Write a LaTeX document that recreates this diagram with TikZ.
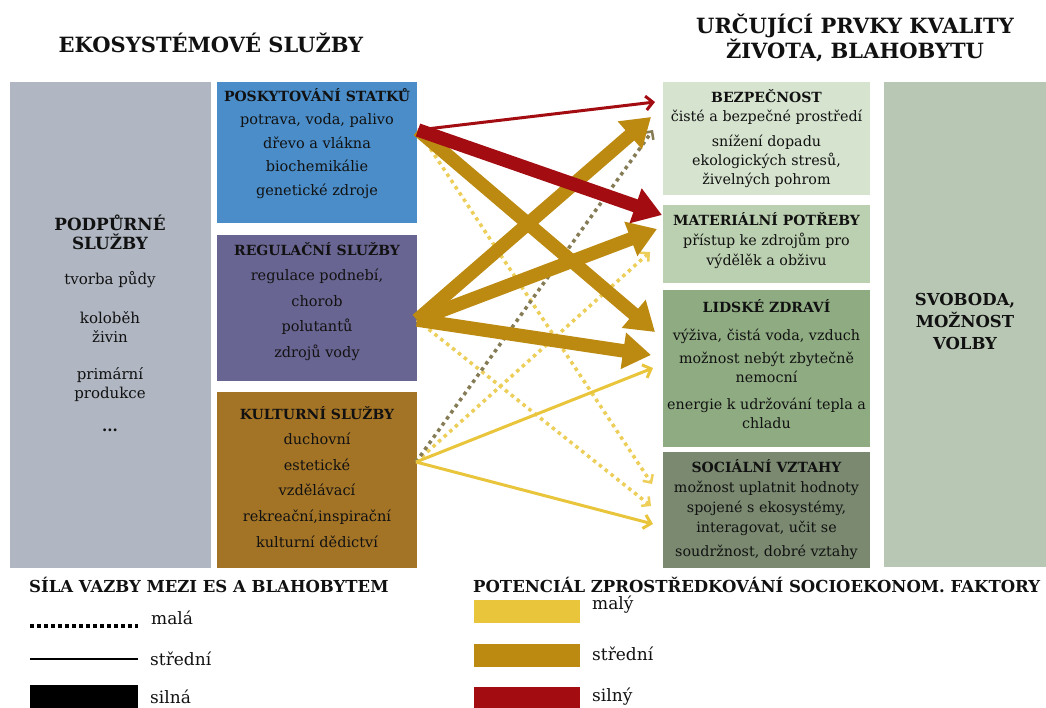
\documentclass[tikz,border=0pt]{standalone}
\usepackage{fontspec}
\setmainfont{DejaVu Serif}
\usetikzlibrary{arrows.meta}

\definecolor{ink}{HTML}{111111}
\definecolor{cPodp}{HTML}{B0B7C3}
\definecolor{cPosk}{HTML}{4A8DC8}
\definecolor{cRegul}{HTML}{696592}
\definecolor{cKult}{HTML}{A47426}
\definecolor{cBez}{HTML}{D6E3CF}
\definecolor{cMat}{HTML}{BBD0B0}
\definecolor{cLid}{HTML}{8FAB82}
\definecolor{cSoc}{HTML}{7A8970}
\definecolor{cSvob}{HTML}{B8C6B4}
\definecolor{cLow}{HTML}{E9C53C}
\definecolor{cMid}{HTML}{BC8A10}
\definecolor{cHigh}{HTML}{A30D12}
\definecolor{cOlive}{HTML}{857B55}

\newcommand\esHead{\bfseries\fontsize{14}{19}\selectfont}

\tikzset{
  panel/.style={rectangle, draw=none, inner sep=0pt, outer sep=0pt, anchor=north west},
  boxtext/.style={align=center, inner sep=0pt, anchor=north, text=ink},
  bigarrow/.style={line width=13.5pt, -{Triangle[length=28pt,width=35pt]}},
  thinarrow/.style={line width=3pt, -{Straight Barb[length=7pt,width=14pt]}},
  dotarrow/.style={line width=3.5pt, dash pattern=on 3.5pt off 4pt,
                   -{Straight Barb[length=6pt,width=12pt,line width=2.5pt]}},
  legtitle/.style={anchor=west, inner sep=0pt, text=ink, font=\bfseries\fontsize{16.5}{19}\selectfont},
  legtext/.style={anchor=west, inner sep=0pt, text=ink, font=\fontsize{17}{20}\selectfont},
}

\begin{document}
\begin{tikzpicture}[x=1pt,y=-1pt]
\useasboundingbox (0,0) rectangle (1046,708);
\fill[white] (0,0) rectangle (1046,708);

% ---- headings
\node[text=ink, inner sep=0pt, font=\bfseries\fontsize{21}{25}\selectfont] (ttl-es) at (211,43) {EKOSYSTÉMOVÉ SLUŽBY};
\node[text=ink, inner sep=0pt, align=center, font=\bfseries\fontsize{21}{25}\selectfont] (ttl-wb) at (855,38) {URČUJÍCÍ PRVKY KVALITY\\ŽIVOTA, BLAHOBYTU};

% ---- ecosystem services (left)
\node[panel, fill=cPodp, minimum width=201pt, minimum height=486pt] (podp) at (10,82) {};
\node[panel, fill=cPosk, minimum width=200pt, minimum height=141pt] (posk) at (217,82) {};
\node[panel, fill=cRegul, minimum width=200pt, minimum height=146pt] (regul) at (217,235) {};
\node[panel, fill=cKult, minimum width=200pt, minimum height=176pt] (kult) at (217,392) {};

\node[boxtext, font=\fontsize{15}{19}\selectfont] (podp-t) at (110,215)
  {{\bfseries\fontsize{16.8}{20}\selectfont PODPŮRNÉ}\\{\bfseries\fontsize{16.8}{20}\selectfont SLUŽBY}\\[16pt]
   tvorba půdy\\[20pt]koloběh\\živin\\[18pt]primární\\produkce\\[14pt]\textbf{...}};
\node[boxtext, font=\fontsize{14.5}{23.5}\selectfont] (posk-t) at (317,88)
  {{\esHead POSKYTOVÁNÍ STATKŮ}\\potrava, voda, palivo\\dřevo a vlákna\\biochemikálie\\genetické zdroje};
\node[boxtext, font=\fontsize{14.5}{25.5}\selectfont] (regul-t) at (317,242)
  {{\esHead REGULAČNÍ SLUŽBY}\\regulace podnebí,\\chorob\\polutantů\\zdrojů vody};
\node[boxtext, font=\fontsize{14.5}{25.6}\selectfont] (kult-t) at (317,406)
  {{\esHead KULTURNÍ SLUŽBY}\\duchovní\\estetické\\vzdělávací\\rekreační,inspirační\\kulturní dědictví};

% ---- constituents of well-being (right)
\node[panel, fill=cBez, minimum width=207pt, minimum height=113pt] (bez) at (663,82) {};
\node[panel, fill=cMat, minimum width=207pt, minimum height=78pt] (mat) at (663,205) {};
\node[panel, fill=cLid, minimum width=207pt, minimum height=157pt] (lid) at (663,290) {};
\node[panel, fill=cSoc, minimum width=207pt, minimum height=116pt] (soc) at (663,452) {};
\node[panel, fill=cSvob, minimum width=162pt, minimum height=485pt] (svob) at (884,82) {};

\node[boxtext, font=\fontsize{14.3}{19}\selectfont] (bez-t) at (766.5,89)
  {{\esHead BEZPEČNOST}\\čisté a bezpečné prostředí\\[6pt]snížení dopadu\\ekologických stresů,\\živelných pohrom};
\node[boxtext, font=\fontsize{14.3}{20}\selectfont] (mat-t) at (766.5,212)
  {{\esHead MATERIÁLNÍ POTŘEBY}\\přístup ke zdrojům pro\\výdělěk a obživu};
\node[boxtext, font=\fontsize{14.3}{19.5}\selectfont] (lid-t) at (766.5,299)
  {{\esHead LIDSKÉ ZDRAVÍ}\\[9pt]výživa, čistá voda, vzduch\\[3pt]možnost nebýt zbytečně\\nemocní\\[7pt]energie k udržování tepla a\\chladu};
\node[boxtext, font=\fontsize{14.3}{20}\selectfont] (soc-t) at (766.5,459)
  {{\esHead SOCIÁLNÍ VZTAHY}\\možnost uplatnit hodnoty\\spojené s ekosystémy,\\interagovat, učit se\\[4pt]soudržnost, dobré vztahy};
\node[boxtext, align=center, font=\bfseries\fontsize{16.5}{22}\selectfont] (svob-t) at (965,293)
  {SVOBODA,\\MOŽNOST\\VOLBY};

% ---- connector ends
\coordinate (posk-o) at (418,130);
\coordinate (regul-o) at (417,320);
\coordinate (kult-o) at (416,462);
\coordinate (bez-a) at (655,102);
\coordinate (bez-b) at (651,117);
\coordinate (bez-c) at (653,130);
\coordinate (mat-a) at (662,215);
\coordinate (mat-b) at (657,229);
\coordinate (mat-c) at (650,252);
\coordinate (lid-a) at (655,332);
\coordinate (lid-b) at (651,355);
\coordinate (lid-c) at (653,368);
\coordinate (soc-a) at (652,484);
\coordinate (soc-b) at (651,506);
\coordinate (soc-c) at (653,524);

% weak links (dotted)
\draw[dotarrow, cLow!85!white] (posk-o) -- (soc-a);
\draw[dotarrow, cLow!85!white] (regul-o) -- (soc-b);
\draw[dotarrow, cLow!85!white] (kult-o) -- (mat-c);
\draw[dotarrow, cOlive] (kult-o) -- (bez-c);
% medium links (thin)
\draw[thinarrow, cLow] (kult-o) -- (lid-c);
\draw[thinarrow, cLow] (kult-o) -- (soc-c);
\draw[thinarrow, cHigh] (posk-o) -- (bez-a);
% strong links (thick)
\draw[bigarrow, cMid] (regul-o) -- (bez-b);
\draw[bigarrow, cMid] (regul-o) -- (mat-b);
\draw[bigarrow, cMid] (regul-o) -- (lid-b);
\draw[bigarrow, cMid] (posk-o) -- (lid-a);
\draw[bigarrow, cHigh] (posk-o) -- (mat-a);

% ---- legend: link strength
\node[legtitle] (leg-s) at (29,585) {SÍLA VAZBY MEZI ES A BLAHOBYTEM};
\coordinate (ls1a) at (30,626); \coordinate (ls1b) at (138,626);
\coordinate (ls2a) at (30,659); \coordinate (ls2b) at (138,659);
\draw[line width=3.5pt, dash pattern=on 3.5pt off 3.5pt, black] (ls1a) -- (ls1b);
\draw[line width=2.5pt, black] (ls2a) -- (ls2b);
\fill[black] (30,685) rectangle (138,712);
\node[legtext] (leg-s1) at (151,618) {malá};
\node[legtext] (leg-s2) at (150,659) {střední};
\node[legtext] (leg-s3) at (150,697) {silná};

% ---- legend: mediation potential
\node[legtitle] (leg-p) at (473,585) {POTENCIÁL ZPROSTŘEDKOVÁNÍ SOCIOEKONOM. FAKTORY};
\fill[cLow] (474,600) rectangle (580,623);
\fill[cMid] (474,644) rectangle (580,667);
\fill[cHigh] (474,687) rectangle (580,712);
\node[legtext] (leg-p1) at (592,605) {malý};
\node[legtext] (leg-p2) at (592,654) {střední};
\node[legtext] (leg-p3) at (592,697) {silný};
\end{tikzpicture}
\end{document}
